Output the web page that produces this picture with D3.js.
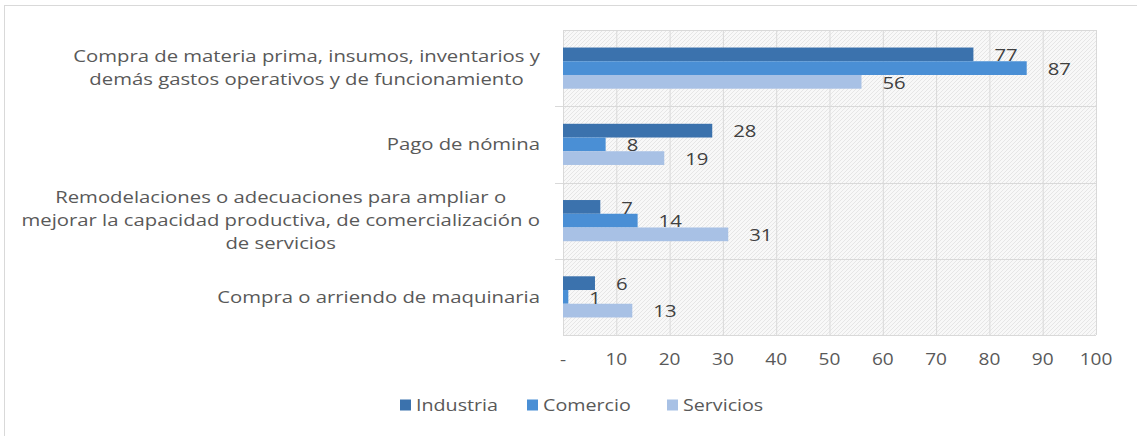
<!DOCTYPE html>
<html>
<head>
<meta charset="utf-8">
<script src="https://cdn.jsdelivr.net/npm/d3@7"></script>
<style>
  body { margin: 0; background: #fff; }
  svg { display: block; font-family: 'Open Sans', sans-serif; }
</style>
</head>
<body>
<div id="chart"></div>
<script>
'use strict';

var categories = [
	['Compra de materia prima, insumos, inventarios y', 'demás gastos operativos y de funcionamiento'],
	['Pago de nómina'],
	['Remodelaciones o adecuaciones para ampliar o', 'mejorar la capacidad productiva, de comercialización o', 'de servicios'],
	['Compra o arriendo de maquinaria']
];
var series = ['Industria', 'Comercio', 'Servicios'];
var industria = [77, 28, 7, 6];
var comercio = [87, 8, 14, 1];
var servicios = [56, 19, 31, 13];
var xTicks = [0, 10, 20, 30, 40, 50, 60, 70, 80, 90, 100];
var colors = ['#3b72ad', '#4a8fd5', '#a8c1e5'];

var values = [industria, comercio, servicios];

var width = 1137;
var height = 436;
var margin = {top: 30, right: 41, bottom: 101, left: 563};
var plotW = width - margin.left - margin.right;
var plotH = height - margin.top - margin.bottom;
var SX = 1.23;	// the source text is drawn a bit wide

function place(sel, fx, fy){
	sel.attr('transform', function(d, i){
		return 'translate(' + fx(d, i) + ',' + fy(d, i) + ') scale(' + SX + ',1)';
	});
}

var svg = d3.select('#chart').append('svg')
	.attr('width', width)
	.attr('height', height);

// hatch pattern like the excel plot area
var defs = svg.append('defs');
var pat = defs.append('pattern')
	.attr('id', 'hatch')
	.attr('patternUnits', 'userSpaceOnUse')
	.attr('width', 4)
	.attr('height', 4);
pat.append('rect').attr('width', 4).attr('height', 4).attr('fill', '#f8f8f8');
pat.append('path').attr('d', 'M0,4 L4,0 M-1,1 L1,-1 M3,5 L5,3')
	.attr('stroke', '#e6e6e6').attr('stroke-width', 1);

// outer border
svg.append('rect')
	.attr('x', 4.5).attr('y', 5.5)
	.attr('width', 1200).attr('height', 600)
	.attr('fill', 'none')
	.attr('stroke', '#d9d9d9');

var g = svg.append('g')
	.attr('transform', 'translate(' + margin.left + ',' + margin.top + ')');

var x = d3.scaleLinear().domain([0, 100]).range([0, plotW]);

var y = d3.scaleBand()
	.domain(d3.range(categories.length))
	.range([0, plotH])
	.paddingInner(0.46)
	.paddingOuter(0.23);

var ySub = d3.scaleBand()
	.domain(d3.range(series.length))
	.range([0, y.bandwidth()]);

g.append('rect')
	.attr('width', plotW)
	.attr('height', plotH)
	.attr('fill', 'url(#hatch)');

// vertical grid
g.append('g').selectAll('line').data(xTicks).enter().append('line')
	.attr('x1', function(d){ return x(d) + 0.5; })
	.attr('x2', function(d){ return x(d) + 0.5; })
	.attr('y1', 0)
	.attr('y2', plotH)
	.attr('stroke', '#d9d9d9');

// horizontal separators between categories
var step = y.step();
var seps = d3.range(categories.length + 1);
g.append('g').selectAll('line').data(seps).enter().append('line')
	.attr('x1', function(d){ return (d === 0 || d === categories.length) ? 0 : -8; })
	.attr('x2', plotW)
	.attr('y1', function(d){ return Math.round(d * step) + 0.5; })
	.attr('y2', function(d){ return Math.round(d * step) + 0.5; })
	.attr('stroke', '#d9d9d9');

// bars
var groups = g.append('g').selectAll('g.cat')
	.data(categories)
	.enter().append('g')
	.attr('class', 'cat')
	.attr('transform', function(d, i){ return 'translate(0,' + y(i) + ')'; });

function rows(d, i){
	return values.map(function(v, s){ return {s: s, v: v[i]}; });
}

groups.selectAll('rect')
	.data(rows)
	.enter().append('rect')
	.attr('x', 0)
	.attr('y', function(d){ return ySub(d.s); })
	.attr('width', function(d){ return x(d.v); })
	.attr('height', ySub.bandwidth())
	.attr('fill', function(d){ return colors[d.s]; });

groups.selectAll('text.val')
	.data(rows)
	.enter().append('text')
	.attr('class', 'val')
	.attr('dy', '0.35em')
	.attr('font-size', 16.5)
	.attr('fill', '#404040')
	.text(function(d){ return d.v; })
	.call(place,
		function(d){ return x(d.v) + 21; },
		function(d){ return ySub(d.s) + ySub.bandwidth() / 2 + 1; });

// category labels, centred block, right edge at 540
var labelRight = 540 - margin.left;
var lineH = 23;
var catLabels = g.append('g').selectAll('g.lbl')
	.data(categories)
	.enter().append('g')
	.attr('class', 'lbl');

catLabels.each(function(lines, i){
	var sel = d3.select(this);
	var cy = y(i) + y.bandwidth() / 2;
	var texts = sel.selectAll('text').data(lines).enter().append('text')
		.attr('dy', '0.35em')
		.attr('font-size', 16.5)
		.attr('fill', '#595959')
		.attr('text-anchor', 'middle')
		.text(function(d){ return d; });
	var maxW = 0;
	texts.each(function(){ maxW = Math.max(maxW, this.getComputedTextLength()); });
	texts.call(place,
		function(){ return labelRight - maxW * SX / 2; },
		function(d, k){ return cy + (k - (lines.length - 1) / 2) * lineH; });
});

// x axis labels
g.append('g').selectAll('text').data(xTicks).enter().append('text')
	.attr('dy', '0.35em')
	.attr('text-anchor', 'middle')
	.attr('font-size', 15.5)
	.attr('fill', '#595959')
	.text(function(d){ return d === 0 ? '-' : d; })
	.call(place, function(d){ return x(d); }, function(){ return plotH + 25; });

// legend
var legendX = [400, 527, 667];
var legend = svg.append('g').selectAll('g.leg')
	.data(series)
	.enter().append('g')
	.attr('class', 'leg')
	.attr('transform', function(d, i){ return 'translate(' + legendX[i] + ',405)'; });

legend.append('rect')
	.attr('x', 0).attr('y', -5.5)
	.attr('width', 11).attr('height', 11)
	.attr('fill', function(d, i){ return colors[i]; });

legend.append('text')
	.attr('dy', '0.35em')
	.attr('font-size', 16)
	.attr('fill', '#595959')
	.text(function(d){ return d; })
	.call(place, function(){ return 16; }, function(){ return 0; });
</script>
</body>
</html>
